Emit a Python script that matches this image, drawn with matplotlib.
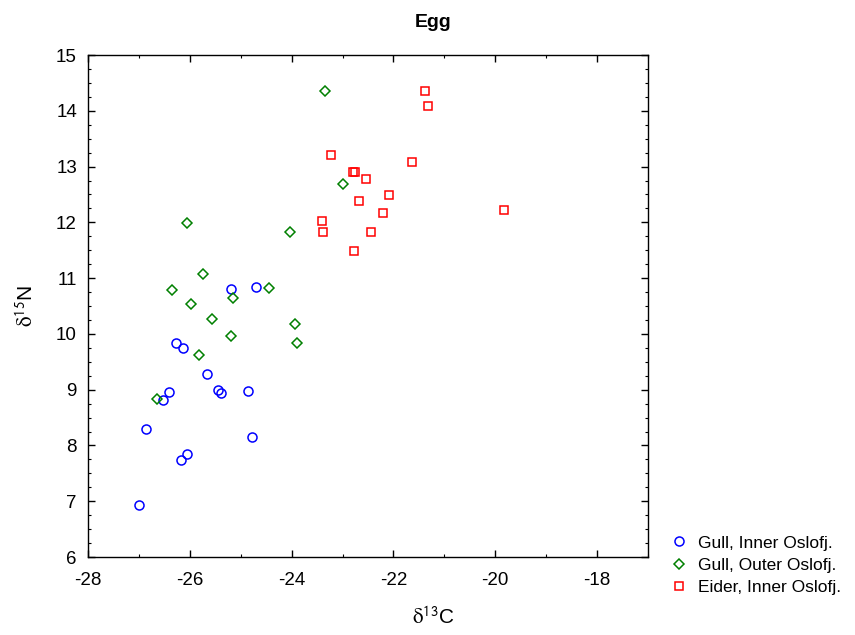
import numpy as np
import matplotlib.pyplot as plt
from matplotlib.ticker import MultipleLocator

plt.rcParams['font.family'] = ['Liberation Sans', 'DejaVu Sans']
plt.rcParams['mathtext.fontset'] = 'stix'
plt.rcParams['axes.unicode_minus'] = False

# Gull, Inner Oslofj.
gull_inner_c = [-25.19, -24.70, -26.28, -26.14, -25.67, -25.44, -25.38, -24.85,
                -26.40, -26.53, -26.87, -24.77, -26.06, -26.17, -26.99]
gull_inner_n = [10.81, 10.84, 9.83, 9.75, 9.28, 9.00, 8.94, 8.98,
                8.95, 8.82, 8.30, 8.15, 7.84, 7.74, 6.93]

# Gull, Outer Oslofj.
gull_outer_c = [-23.34, -23.00, -26.05, -24.04, -25.74, -26.35, -24.44, -25.98,
                -25.15, -25.57, -25.20, -23.93, -23.90, -25.82, -26.64]
gull_outer_n = [14.36, 12.68, 11.98, 11.83, 11.08, 10.79, 10.82, 10.54,
                10.64, 10.26, 9.97, 10.17, 9.84, 9.63, 8.83]

# Eider, Inner Oslofj.
eider_c = [-23.23, -22.80, -22.75, -22.53, -22.67, -23.41, -23.39, -22.45,
           -22.78, -21.38, -21.32, -21.63, -22.08, -22.20, -19.83]
eider_n = [13.21, 12.90, 12.90, 12.78, 12.38, 12.02, 11.82, 11.82,
           11.49, 14.35, 14.09, 13.08, 12.49, 12.16, 12.23]

fig = plt.figure(figsize=(8.55, 6.35), dpi=100)
ax = fig.add_axes([88/855, 1-557/635, (648-88)/855, (557-55)/635])

ax.plot(gull_inner_c, gull_inner_n, 'o', ls='none', mfc='none', mec='blue',
        mew=1.1, ms=6.5, label='Gull, Inner Oslofj.')
ax.plot(gull_outer_c, gull_outer_n, 'D', ls='none', mfc='none', mec='green',
        mew=1.1, ms=5.5, label='Gull, Outer Oslofj.')
ax.plot(eider_c, eider_n, 's', ls='none', mfc='none', mec='red',
        mew=1.1, ms=5.8, label='Eider, Inner Oslofj.')

ax.set_xlim(-28, -17)
ax.set_ylim(6, 15)
ax.set_xticks([-28, -26, -24, -22, -20, -18])
ax.set_yticks(np.arange(6, 16, 1))
ax.xaxis.set_minor_locator(MultipleLocator(1))
ax.yaxis.set_minor_locator(MultipleLocator(0.25))
ax.tick_params(which='both', direction='in', top=True, right=True, labelsize=13.5)
ax.tick_params(which='major', length=5, width=1)
ax.tick_params(which='minor', length=2.5, width=0.8)
ax.tick_params(axis='x', which='both', pad=11)
ax.tick_params(axis='y', which='both', pad=8)
for s in ax.spines.values():
    s.set_linewidth(1)

ax.set_xlabel(r'$\mathrm{\delta}^{\mathsf{13}}$C', fontsize=15, labelpad=12)
ax.xaxis.set_label_coords((433-88)/560, -0.098)
ax.set_ylabel(r'$\mathrm{\delta}^{\mathsf{15}}$N', fontsize=15, labelpad=14)

fig.text(0.506, 0.965, 'Egg', ha='center', va='center', fontsize=14, fontweight='bold')

ax.legend(loc='center left', bbox_to_anchor=(1.027, -0.016), frameon=False,
          fontsize=12.5, handlelength=1, handletextpad=0.6, labelspacing=0.4,
          borderaxespad=0)

fig.savefig('out.png', dpi=100)
